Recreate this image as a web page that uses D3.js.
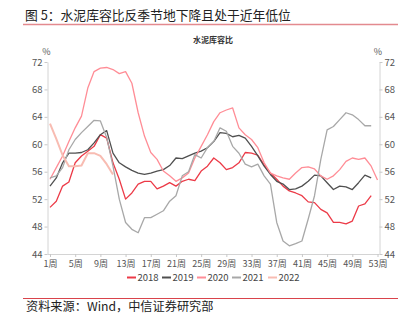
<!DOCTYPE html>
<html><head><meta charset="utf-8">
<script src="https://cdn.jsdelivr.net/npm/d3@7"></script>
<style>body{margin:0;background:#fff}svg{display:block;font-family:"Noto Sans CJK SC","Noto Sans",sans-serif}</style>
</head><body><svg id="c" width="411" height="326"></svg>
<script>
const years = ["2018","2019","2020","2021","2022"];
const colors = ["#ec3a47","#505050","#ff8d96","#a8a8a8","#f8bcb2"];
const widths = [1.3,1.3,1.3,1.3,2];
const yTicks = [44,48,52,56,60,64,68,72];
const xTicks = [1,5,9,13,17,21,25,29,33,37,41,45,49,53];
const v2018 = [50.8,51.7,53.9,54.5,57.3,58.3,59.0,59.7,61.4,60.9,57.3,54.9,52.0,52.9,54.2,54.6,54.6,53.5,53.9,54.4,53.9,54.6,54.9,54.7,56.1,56.8,58.0,57.3,56.3,56.6,57.3,58.8,58.7,58.4,57.0,55.8,54.9,53.9,53.2,52.9,52.5,51.6,51.5,50.5,50.0,48.6,48.6,48.4,48.8,51.0,51.3,52.5];
const v2019 = [53.9,55.1,57.3,58.7,58.7,58.8,59.2,60.2,61.4,62.0,58.7,57.3,56.7,56.2,55.8,55.6,55.8,56.1,56.3,56.9,58.0,57.9,58.3,58.7,59.0,59.5,60.4,61.7,61.6,61.1,61.3,60.9,59.7,58.3,56.8,55.6,54.6,54.2,53.4,53.5,53.9,54.6,55.5,55.4,54.4,53.4,53.9,53.8,53.4,54.4,55.5,55.1];
const v2020 = [54.9,56.6,58.3,60.4,62.4,64.1,68.2,70.6,71.1,71.2,70.9,70.3,70.6,68.9,64.6,61.2,58.8,57.8,56.1,55.4,54.6,55.1,55.8,58.0,59.7,61.4,63.3,64.6,65.0,65.3,62.4,61.4,60.7,59.5,57.3,55.8,55.4,55.1,54.9,55.8,56.6,56.7,56.4,55.4,54.9,55.4,56.3,57.5,58.0,57.8,58.0,56.8,54.8];
const v2021 = [55.1,55.4,56.6,59.2,60.7,61.7,62.6,63.5,63.4,61.0,56.8,52.0,48.6,47.6,47.1,49.3,49.3,49.8,50.3,51.7,52.5,55.4,56.0,58.5,58.0,59.5,60.4,62.4,61.9,59.7,58.7,57.1,56.7,57.1,55.4,54.2,48.6,45.9,45.2,45.5,45.9,49.1,52.5,57.8,62.1,62.6,63.6,64.6,64.3,63.6,62.7,62.7];
const v2022 = [63.0,60.8,58.4,56.8,56.8,56.9,58.7,58.7,58.3,57.1,55.6];
const series = [v2018,v2019,v2020,v2021,v2022];

const svg = d3.select("#c");
const x = d3.scaleLinear().domain([1,53]).range([50,377.5]);
const y = d3.scaleLinear().domain([44,72]).range([254,62]);

// header
svg.append("text").attr("x",25).attr("y",20).attr("font-size",12.8).attr("fill","#222")
  .text("图 5：水泥库容比反季节地下降且处于近年低位");
svg.append("line").attr("x1",23).attr("x2",398).attr("y1",24.5).attr("y2",24.5).attr("stroke","#e38a8f").attr("stroke-width",1.5);
svg.append("text").attr("x",213).attr("y",43).attr("text-anchor","middle").attr("font-size",8).attr("font-weight","bold").attr("fill","#333").text("水泥库容比");
svg.append("text").attr("x",46.5).attr("y",55).attr("text-anchor","middle").attr("font-size",9).attr("fill","#555").text("%");
svg.append("text").attr("x",378).attr("y",55).attr("text-anchor","middle").attr("font-size",9).attr("fill","#555").text("%");

const axStyle = (g, fs) => {
  g.selectAll(".domain").attr("stroke","#d4d4d4");
  g.selectAll(".tick line").attr("stroke","#c8c8c8");
  g.selectAll("text").attr("fill","#555").attr("font-size",fs).attr("font-family",'"Noto Sans CJK SC",sans-serif');
};
svg.append("g").attr("transform","translate(47.5,0)")
  .call(d3.axisLeft(y).tickValues(yTicks).tickSize(3).tickSizeOuter(0).tickPadding(2)).call(axStyle, 9.5);
svg.append("g").attr("transform","translate(379.5,0)")
  .call(d3.axisRight(y).tickValues(yTicks).tickSize(3).tickSizeOuter(0).tickPadding(2)).call(axStyle, 9.5);
const xg = svg.append("g").attr("transform","translate(0,254)")
  .call(d3.axisBottom(x).tickValues(xTicks).tickFormat(d=>d+"周").tickSize(3).tickSizeOuter(0).tickPadding(3.5)).call(axStyle, 9);
xg.select(".domain").attr("d","M47.5,0.5H379.5");

const line = d3.line().x((d,i)=>x(i+1)).y(d=>y(d));
series.forEach((s,k)=>{
  svg.append("path").datum(s).attr("d",line).attr("fill","none")
    .attr("stroke",colors[k]).attr("stroke-width",widths[k]).attr("stroke-linejoin","round");
});

// legend
const lx = [127,162,197,232,268];
years.forEach((yr,k)=>{
  svg.append("line").attr("x1",lx[k]).attr("x2",lx[k]+9).attr("y1",277.5).attr("y2",277.5)
    .attr("stroke",colors[k]).attr("stroke-width",2);
  svg.append("text").attr("x",lx[k]+10.5).attr("y",281).attr("font-size",9.5).attr("fill","#444").text(yr);
});

svg.append("line").attr("x1",23).attr("x2",398).attr("y1",298.5).attr("y2",298.5).attr("stroke","#d9434b").attr("stroke-width",1.2);
svg.append("text").attr("x",26).attr("y",311).attr("font-size",12.2).attr("fill","#222").text("资料来源：Wind，中信证券研究部");
</script></body></html>
